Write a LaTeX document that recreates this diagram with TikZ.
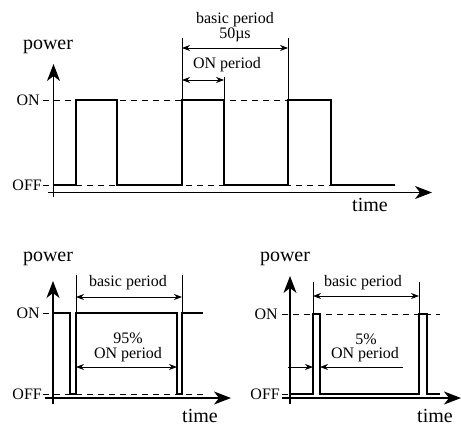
\documentclass[tikz,border=0pt]{standalone}
\usepackage{fontspec}
\setmainfont{Liberation Serif}
\usetikzlibrary{arrows.meta}
\begin{document}
\begin{tikzpicture}[x=1pt,y=-1pt,
  axis/.style={line width=1.1pt,-{Stealth[length=17pt,width=13pt,inset=5pt]}},
  wave/.style={line width=2.4pt,line join=miter},
  level/.style={line width=0.9pt,dash pattern=on 6pt off 5pt},
  guide/.style={line width=0.8pt},
  dim/.style={line width=0.8pt,{Stealth[length=8pt,width=6pt]}-{Stealth[length=8pt,width=6pt]}},
  dimr/.style={line width=0.8pt,-{Stealth[length=8pt,width=6pt]}},
  big/.style={font=\fontsize{20}{22}\selectfont,inner sep=0pt},
  lbl/.style={font=\fontsize{16}{18}\selectfont,inner sep=0pt},
  lvl/.style={font=\fontsize{16}{18}\selectfont,inner sep=0pt,anchor=east}]
\useasboundingbox (0,0) rectangle (461,426);
\fill[white] (0,0) rectangle (461,426);

% ---------------- top diagram ----------------
\coordinate (t-y0) at (53.5,197);
\coordinate (t-y1) at (53.5,64);
\coordinate (t-x0) at (48,192.5);
\coordinate (t-x1) at (432,192.5);
\draw[level] (43,100) -- (288,100);
\draw[level] (43,185) -- (395,185);
\draw[axis] (t-y0) -- (t-y1);
\draw[axis] (t-x0) -- (t-x1);
\draw[wave] (53.5,185) -- (76,185) -- (76,100) -- (117,100) -- (117,185) -- (182,185)
  -- (182,100) -- (224,100) -- (224,185) -- (288,185) -- (288,100) -- (331,100)
  -- (331,185) -- (395,185);
\coordinate (t-g1a) at (182,38); \coordinate (t-g1b) at (182,100);
\coordinate (t-g2a) at (288,38); \coordinate (t-g2b) at (288,100);
\coordinate (t-g3a) at (224,77); \coordinate (t-g3b) at (224,100);
\draw[guide] (t-g1a) -- (t-g1b);
\draw[guide] (t-g2a) -- (t-g2b);
\draw[guide] (t-g3a) -- (t-g3b);
\coordinate (t-bp1) at (182,48); \coordinate (t-bp2) at (288,48);
\draw[dim] (t-bp1) -- (t-bp2);
\coordinate (t-on1) at (182,80); \coordinate (t-on2) at (224,80);
\draw[dim] (t-on1) -- (t-on2);
\node[lbl] (t-bp) at (235,20) {basic period};
\node[lbl] (t-us) at (235,35) {50µs};
\node[lbl] (t-onp) at (227,65) {ON period};
\node[big] (t-power) at (48,47) {power};
\node[big] (t-time) at (370,205) {time};
\node[lvl] (t-ON) at (40,100) {ON};
\node[lvl] (t-OFF) at (42,185) {OFF};

% ---------------- bottom left ----------------
\coordinate (l-y0) at (53,404);
\coordinate (l-y1) at (53,281);
\coordinate (l-x0) at (45,398);
\coordinate (l-x1) at (231,398);
\draw[level] (43,313) -- (53,313);
\draw[level] (43,394) -- (205,394);
\draw[axis] (l-y0) -- (l-y1);
\draw[axis] (l-x0) -- (l-x1);
\draw[wave] (53,313) -- (70,313) -- (70,394) -- (76,394) -- (76,313) -- (177,313)
  -- (177,394) -- (182,394) -- (182,313) -- (203,313);
\coordinate (l-g1a) at (76,275); \coordinate (l-g1b) at (76,313);
\coordinate (l-g2a) at (182,275); \coordinate (l-g2b) at (182,313);
\draw[guide] (l-g1a) -- (l-g1b);
\draw[guide] (l-g2a) -- (l-g2b);
\coordinate (l-bp1) at (76,297); \coordinate (l-bp2) at (182,297);
\draw[dim] (l-bp1) -- (l-bp2);
\coordinate (l-on1) at (76,367); \coordinate (l-on2) at (177,367);
\draw[dim] (l-on1) -- (l-on2);
\node[lbl] (l-bp) at (128,283) {basic period};
\node[lbl] (l-pc) at (128,338) {95\%};
\node[lbl] (l-onp) at (128,355) {ON period};
\node[big] (l-power) at (48,259) {power};
\node[big] (l-time) at (200,416) {time};
\node[lvl] (l-ON) at (40,313) {ON};
\node[lvl] (l-OFF) at (42,394) {OFF};

% ---------------- bottom right ----------------
\coordinate (r-y0) at (290,404);
\coordinate (r-y1) at (290,276);
\coordinate (r-x0) at (282,398);
\coordinate (r-x1) at (461,398);
\draw[level] (282,314) -- (440,314);
\draw[level] (282,394) -- (290,394);
\draw[axis] (r-y0) -- (r-y1);
\draw[axis] (r-x0) -- (r-x1);
\draw[wave] (290,394) -- (313,394) -- (313,314) -- (320,314) -- (320,394) -- (419,394)
  -- (419,314) -- (427,314) -- (427,394) -- (440,394);
\coordinate (r-g1a) at (313,282); \coordinate (r-g1b) at (313,314);
\coordinate (r-g2a) at (419,282); \coordinate (r-g2b) at (419,314);
\draw[guide] (r-g1a) -- (r-g1b);
\draw[guide] (r-g2a) -- (r-g2b);
\coordinate (r-bp1) at (313,296); \coordinate (r-bp2) at (419,296);
\draw[dim] (r-bp1) -- (r-bp2);
\coordinate (r-a1) at (288,367); \coordinate (r-a1t) at (313,367);
\coordinate (r-a2) at (403,367); \coordinate (r-a2t) at (320,367);
\draw[dimr] (r-a1) -- (r-a1t);
\draw[dimr] (r-a2) -- (r-a2t);
\node[lbl] (r-bp) at (363,283) {basic period};
\node[lbl] (r-pc) at (366,339) {5\%};
\node[lbl] (r-onp) at (365,355) {ON period};
\node[big] (r-power) at (285,259) {power};
\node[big] (r-time) at (435,416) {time};
\node[lvl] (r-ON) at (278,314) {ON};
\node[lvl] (r-OFF) at (280,394) {OFF};
\end{tikzpicture}
\end{document}
